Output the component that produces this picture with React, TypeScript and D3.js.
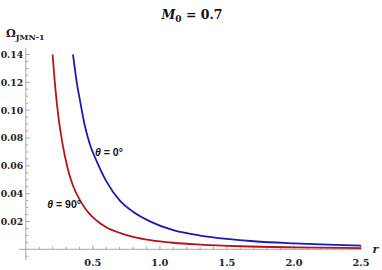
import React from "react";
import * as d3 from "d3";

const blueR = [0.352, 0.38, 0.404, 0.44, 0.479, 0.53, 0.6, 0.7, 0.8, 0.93, 1.1, 1.3, 1.5, 1.7, 2.0, 2.25, 2.5];
const blueV = [0.14, 0.12, 0.107, 0.089, 0.0752, 0.063, 0.049, 0.0352, 0.027, 0.0199, 0.0137, 0.0099, 0.0075, 0.0058, 0.0043, 0.0034, 0.0027];
const redR = [0.2, 0.22, 0.245, 0.275, 0.31, 0.35, 0.417, 0.47, 0.53, 0.6, 0.7, 0.8, 0.93, 1.1, 1.3, 1.6, 2.0, 2.5];
const redV = [0.14, 0.116, 0.094, 0.0752, 0.059, 0.0462, 0.0332, 0.026, 0.0205, 0.0158, 0.0118, 0.009, 0.0066, 0.0047, 0.0034, 0.0022, 0.0014, 0.0009];
const xTicks = [0.5, 1.0, 1.5, 2.0, 2.5];
const yTicks = [0.02, 0.04, 0.06, 0.08, 0.1, 0.12, 0.14];

export default function App() {
  const W = 382, H = 270;
  const x = d3.scaleLinear().domain([0, 2.5]).range([25.8, 361]);
  const y = d3.scaleLinear().domain([0, 0.14]).range([249.3, 54.5]);
  const line = d3.line<[number, number]>().x(d => x(d[0])).y(d => y(d[1])).curve(d3.curveMonotoneX);
  const blue = blueR.map((r, i) => [r, blueV[i]] as [number, number]);
  const red = redR.map((r, i) => [r, redV[i]] as [number, number]);
  const xMinor = d3.range(1, 26).map(i => i / 10).filter(v => !xTicks.some(t => Math.abs(t - v) < 1e-6));
  const yMinor = d3.range(-1, 29).map(i => i * 0.005).filter(v => v !== 0 && !yTicks.some(t => Math.abs(t - v) < 1e-6));
  const axisColor = "#a8a8a8";
  const serif = "'DejaVu Serif', 'Liberation Serif', serif";
  const sans = "'Liberation Sans', Arial, sans-serif";
  return (
    <svg width={W} height={H} style={{ position: "absolute", left: 0, top: 0, background: "#fff" }}>
      {/* axes */}
      <line x1={x(-0.05)} x2={x(2.5)} y1={y(0)} y2={y(0)} stroke={axisColor} strokeWidth={1} />
      <line x1={x(0)} x2={x(0)} y1={y(-0.0078)} y2={y(0.1445)} stroke={axisColor} strokeWidth={1} />
      {xTicks.map(t => (
        <g key={"xt" + t}>
          <line x1={x(t)} x2={x(t)} y1={y(0)} y2={y(0) - 4} stroke={axisColor} />
          <text x={x(t)} y={y(0) + 16.5} textAnchor="middle" fontFamily={serif} fontWeight="bold" fontSize={9.8} fill="#222">{t.toFixed(1)}</text>
        </g>
      ))}
      {xMinor.map(t => (
        <line key={"xm" + t} x1={x(t)} x2={x(t)} y1={y(0)} y2={y(0) - 2.5} stroke={axisColor} />
      ))}
      {yTicks.map(t => (
        <g key={"yt" + t}>
          <line x1={x(0)} x2={x(0) + 4} y1={y(t)} y2={y(t)} stroke={axisColor} />
          <text x={x(0) - 2.5} y={y(t) + 3.5} textAnchor="end" fontFamily={serif} fontWeight="bold" fontSize={9.3} fill="#222">{t.toFixed(2)}</text>
        </g>
      ))}
      {yMinor.map(t => (
        <line key={"ym" + t} x1={x(0)} x2={x(0) + 2.5} y1={y(t)} y2={y(t)} stroke={axisColor} />
      ))}
      {/* curves */}
      <path d={line(red) || ""} fill="none" stroke="#b3141a" strokeWidth={1.8} />
      <path d={line(blue) || ""} fill="none" stroke="#1c1ca8" strokeWidth={1.8} />
      {/* labels */}
      <text x={95} y={155.5} fontFamily={sans} fontWeight="bold" fontSize={10.5} fill="#111">
        <tspan fontStyle="italic">θ</tspan> = 0°
      </text>
      <text x={47.3} y={208} fontFamily={sans} fontWeight="bold" fontSize={10.5} fill="#111">
        <tspan fontStyle="italic">θ</tspan> = 90°
      </text>
      <text x={372.5} y={252.5} fontFamily={serif} fontStyle="italic" fontWeight="bold" fontSize={11} fill="#222">r</text>
      <text x={6} y={37} fontFamily={serif} fontWeight="bold" fontSize={11} fill="#222">
        Ω<tspan fontSize={8} dy={3}>JMN-1</tspan>
      </text>
      <text x={192} y={19} textAnchor="middle" fontFamily={serif} fontWeight="bold" fontSize={12.5} fill="#111">
        <tspan fontStyle="italic">M</tspan><tspan fontSize={9} dy={3}>0</tspan><tspan dy={-3}> = 0.7</tspan>
      </text>
    </svg>
  );
}
